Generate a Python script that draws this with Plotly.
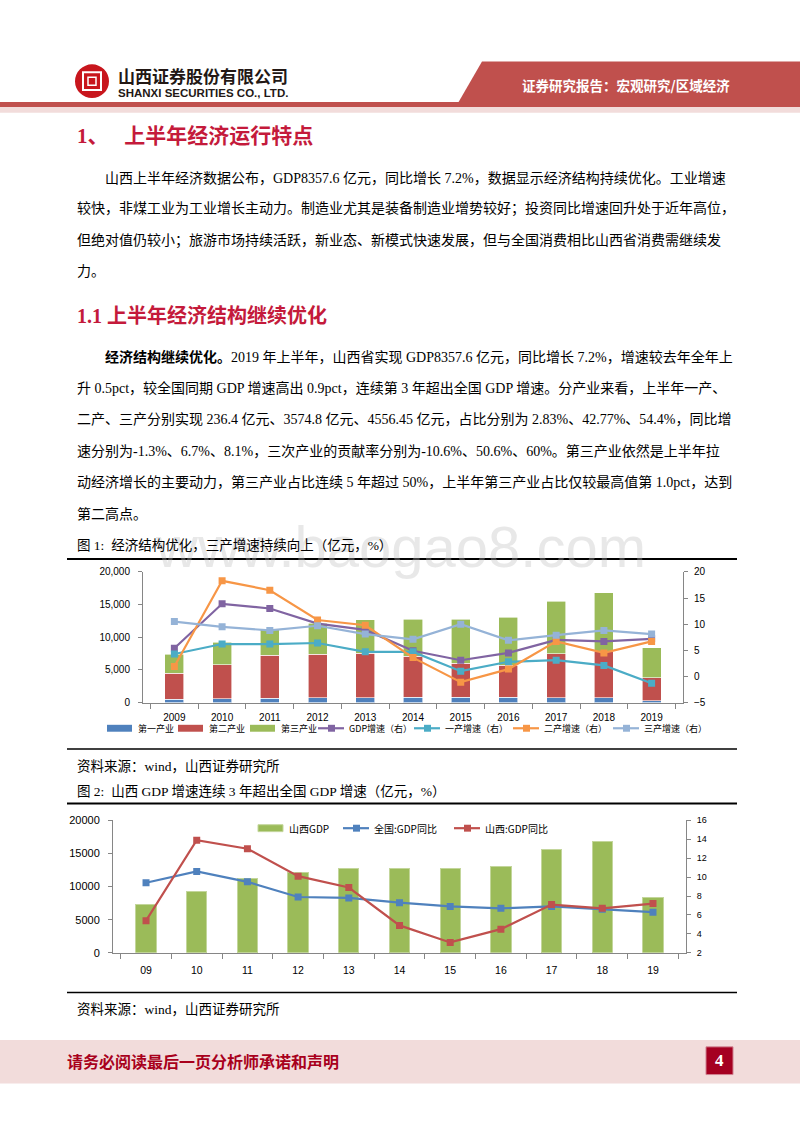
import plotly.graph_objects as go

W, H = 800, 1132
def X(p): return p / W
def Y(p): return 1 - p / H

# ---------------- data ----------------
years1 = ["2009", "2010", "2011", "2012", "2013", "2014", "2015", "2016", "2017", "2018", "2019"]
primary = [477, 554, 641, 698, 721, 788, 783, 785, 720, 741, 236.4]
secondary = [3993, 5235, 6635, 6731, 6792, 6284, 5195, 4926, 6779, 7089, 3574.8]
tertiary = [2888, 3412, 3962, 4683, 5152, 5689, 6789, 7339, 8030, 8988, 4556.45]
gdp_growth = [5.4, 13.9, 13.0, 10.1, 8.9, 4.9, 3.1, 4.5, 7.0, 6.7, 7.2]
prim_growth = [4.3, 6.2, 6.2, 6.4, 4.7, 4.7, 1.0, 2.8, 3.1, 2.1, -1.3]
sec_growth = [1.9, 18.3, 16.5, 10.8, 9.8, 3.6, -1.1, 1.4, 6.7, 4.5, 6.7]
ter_growth = [10.5, 9.5, 8.8, 9.7, 8.1, 7.1, 10.0, 6.9, 7.9, 8.8, 8.1]

years2 = ["09", "10", "11", "12", "13", "14", "15", "16", "17", "18", "19"]
sx_gdp = [7358, 9201, 11238, 12113, 12665, 12761, 12766, 13050, 15528, 16818, 8358]
cn_gdp_yoy = [9.4, 10.6, 9.5, 7.9, 7.8, 7.3, 6.9, 6.7, 6.9, 6.6, 6.3]
sx_gdp_yoy = [5.4, 13.9, 13.0, 10.1, 8.9, 4.9, 3.1, 4.5, 7.1, 6.7, 7.2]

bar_names1 = ["第一产业", "第二产业", "第三产业"]
bar_colors1 = ["#4f81bd", "#c0504d", "#9bbb59"]
line_names1 = ["GDP增速（右）", "一产增速（右）", "二产增速（右）", "三产增速（右）"]
line_colors1 = ["#8064a2", "#4bacc6", "#f79646", "#95b3d7"]

CJK = "Noto Sans CJK SC"
SERIF = "Liberation Serif, Noto Sans CJK SC"
SANS = "Liberation Sans, Arial, Noto Sans CJK SC"
RED_T = "#c41a3b"

fig = go.Figure()

# ---------------- chart 1 ----------------
bar_line = dict(color="white", width=0.6)
for name, vals, col in zip(bar_names1, [primary, secondary, tertiary], bar_colors1):
    fig.add_trace(go.Bar(x=years1, y=vals, name=name, marker=dict(color=col, line=bar_line),
                         width=0.4, xaxis="x", yaxis="y"))
for name, vals, col in zip(line_names1, [gdp_growth, prim_growth, sec_growth, ter_growth], line_colors1):
    fig.add_trace(go.Scatter(x=years1, y=vals, name=name, mode="lines+markers",
                             line=dict(color=col, width=2.2),
                             marker=dict(symbol="square", size=7, color=col),
                             xaxis="x", yaxis="y2"))

# ---------------- chart 2 ----------------
fig.add_trace(go.Bar(x=years2, y=sx_gdp, name="山西GDP",
                     marker=dict(color="#9bbb59", line=dict(color="#c3d69b", width=1)),
                     width=0.4, xaxis="x2", yaxis="y3"))
fig.add_trace(go.Scatter(x=years2, y=cn_gdp_yoy, name="全国:GDP同比", mode="lines+markers",
                         line=dict(color="#4f81bd", width=2.2),
                         marker=dict(symbol="square", size=7, color="#4f81bd"),
                         xaxis="x2", yaxis="y4"))
fig.add_trace(go.Scatter(x=years2, y=sx_gdp_yoy, name="山西:GDP同比", mode="lines+markers",
                         line=dict(color="#c0504d", width=2.2),
                         marker=dict(symbol="square", size=7, color="#c0504d"),
                         xaxis="x2", yaxis="y4"))

axcol = "#868686"
def tf(size): return dict(family=SANS, size=size, color="#000000")
def ycommon(size):
    return dict(showgrid=False, zeroline=False, showline=True, linecolor=axcol, linewidth=1,
                ticks="outside", ticklen=4, tickcolor=axcol, tickfont=tf(size))
def xcommon(size):
    return dict(showgrid=False, zeroline=False, showline=True, linecolor=axcol, linewidth=1,
                ticks="outside", ticklen=5, tickcolor=axcol, tickson="boundaries",
                tickfont=tf(size), type="category")

fig.update_layout(
    width=W, height=H, margin=dict(l=0, r=0, t=0, b=0),
    paper_bgcolor="white", plot_bgcolor="rgba(0,0,0,0)",
    barmode="stack", showlegend=False,
    xaxis=dict(domain=[X(143), X(683)], anchor="y", ticklabelstandoff=5, **xcommon(10)),
    yaxis=dict(domain=[Y(704), Y(572)], anchor="x", range=[0, 20000], dtick=5000,
               tickformat=",.0f", ticklabelstandoff=6, **ycommon(10)),
    yaxis2=dict(overlaying="y", side="right", anchor="x", range=[-5, 20], dtick=5,
                ticklabelstandoff=4, **ycommon(10)),
    xaxis2=dict(domain=[X(113), X(686)], anchor="y3", ticklabelstandoff=8, **xcommon(10.5)),
    yaxis3=dict(domain=[Y(957), Y(823)], anchor="x2", range=[0, 20000], dtick=5000,
                tickformat="d", ticklabelstandoff=6, **ycommon(11)),
    yaxis4=dict(overlaying="y3", side="right", anchor="x2", range=[2, 16], dtick=2,
                ticklabelstandoff=4, **ycommon(9)),
)

shapes = []
ann = []

def text(x, y, s, size=14, color="#000", family=SERIF, anchor="left", yanchor="middle"):
    ann.append(dict(x=X(x), y=Y(y), xref="paper", yref="paper", text=s, showarrow=False,
                    xanchor=anchor, yanchor=yanchor, font=dict(size=size, color=color, family=family)))

def rect(x0, y0, x1, y1, fill, line=None, layer="below"):
    shapes.append(dict(type="rect", xref="paper", yref="paper", x0=X(x0), x1=X(x1), y0=Y(y1), y1=Y(y0),
                       fillcolor=fill, line=dict(width=0) if line is None else line, layer=layer))

def hline(x0, x1, y, width=1.5, color="#000"):
    shapes.append(dict(type="line", xref="paper", yref="paper", x0=X(x0), x1=X(x1), y0=Y(y), y1=Y(y),
                       line=dict(color=color, width=width)))

def leg_bar(x, y, name, col, size, border=None):
    rect(x, y - 3.5, x + 25, y + 3.5, col, line=border, layer="above")
    text(x + 29, y, name, size=size, family=CJK)

def leg_line(x, y, name, col, size):
    hline(x, x + 26, y, width=2.2, color=col)
    rect(x + 10, y - 3.5, x + 17, y + 3.5, col, layer="above")
    text(x + 29, y, name, size=size, family=CJK)

# watermark
text(400, 546, "www.baogao8.com", size=58, color="rgba(190,190,190,0.35)", family="Liberation Sans", anchor="center")

# ---------------- header ----------------
path = f"M {X(482)},{Y(56)} L {X(800)},{Y(56)} L {X(800)},{Y(98)} L {X(458)},{Y(98)} Z"
shapes.append(dict(type="path", xref="paper", yref="paper", path=path, fillcolor="#c0504d", line=dict(width=0)))
rect(0, 97, 800, 102, "#c0504d")
rect(0, 102, 800, 108, "#f2dcdb")
shapes.append(dict(type="circle", xref="paper", yref="paper", x0=X(75), x1=X(109), y0=Y(93), y1=Y(59),
                   fillcolor="#c8161d", line=dict(width=0)))
shapes.append(dict(type="rect", xref="paper", yref="paper", x0=X(83), x1=X(101), y0=Y(85), y1=Y(67),
                   fillcolor="#c8161d", line=dict(color="white", width=2)))
shapes.append(dict(type="rect", xref="paper", yref="paper", x0=X(88), x1=X(96), y0=Y(80), y1=Y(72),
                   fillcolor="#c8161d", line=dict(color="white", width=1.5)))
text(116, 70, "<b>山西证券股份有限公司</b>", size=17, color="#231815", family=CJK)
text(116, 88, "<b>SHANXI SECURITIES CO., LTD.</b>", size=11.5, color="#231815",
     family="Liberation Sans Narrow, Liberation Sans")
text(520, 80, "<b>证券研究报告：宏观研究/区域经济</b>", size=13.5, color="white", family=CJK)

# ---------------- body text ----------------
text(75, 131, "<b>1、   上半年经济运行特点</b>", size=21, color=RED_T)
p1 = [
    (103, 174, "山西上半年经济数据公布，GDP8357.6 亿元，同比增长 7.2%，数据显示经济结构持续优化。工业增速"),
    (75, 205, "较快，非煤工业为工业增长主动力。制造业尤其是装备制造业增势较好；投资同比增速回升处于近年高位，"),
    (75, 237, "但绝对值仍较小；旅游市场持续活跃，新业态、新模式快速发展，但与全国消费相比山西省消费需继续发"),
    (75, 268, "力。"),
]
for x, y, s in p1:
    text(x, y, s)
text(75, 313, "<b>1.1 上半年经济结构继续优化</b>", size=20, color=RED_T)
p2 = [
    (103, 355, "<b>经济结构继续优化。</b>2019 年上半年，山西省实现 GDP8357.6 亿元，同比增长 7.2%，增速较去年全年上"),
    (75, 386, "升 0.5pct，较全国同期 GDP 增速高出 0.9pct，连续第 3 年超出全国 GDP 增速。分产业来看，上半年一产、"),
    (75, 418, "二产、三产分别实现 236.4 亿元、3574.8 亿元、4556.45 亿元，占比分别为 2.83%、42.77%、54.4%，同比增"),
    (75, 450, "速分别为-1.3%、6.7%、8.1%，三次产业的贡献率分别为-10.6%、50.6%、60%。第三产业依然是上半年拉"),
    (75, 481, "动经济增长的主要动力，第三产业占比连续 5 年超过 50%，上半年第三产业占比仅较最高值第 1.0pct，达到"),
    (75, 513, "第二高点。"),
]
for x, y, s in p2:
    text(x, y, s)

text(75, 545, "图 1:  经济结构优化，三产增速持续向上（亿元，%）", size=13.5)
hline(67, 737, 559, width=2)
hline(67, 737, 751, width=1.5)
text(75, 769, "资料来源：wind，山西证券研究所", size=13.5)

# chart 1 legend
leg1_x = [107, 178, 250]
for x, name, col in zip(leg1_x, bar_names1, bar_colors1):
    leg_bar(x, 730, name, col, 9)
leg1_lx = [318, 414, 513, 613]
for x, name, col in zip(leg1_lx, line_names1, line_colors1):
    leg_line(x, 730, name, col, 9)

text(75, 793, "图 2:  山西 GDP 增速连续 3 年超出全国 GDP 增速（亿元，%）", size=13.5)
hline(67, 737, 806, width=2)
hline(67, 737, 997, width=1.5)
text(75, 1014, "资料来源：wind，山西证券研究所", size=13.5)

# chart 2 legend
leg_bar(258, 831, "山西GDP", "#9bbb59", 10, border=dict(color="#c3d69b", width=1))
leg_line(343, 831, "全国:GDP同比", "#4f81bd", 10)
leg_line(454, 831, "山西:GDP同比", "#c0504d", 10)

# ---------------- footer ----------------
rect(0, 1045, 800, 1089, "#f2dcdb")
text(65, 1066, "<b>请务必阅读最后一页分析师承诺和声明</b>", size=16, color="#a8001c", family=CJK)
shapes.append(dict(type="rect", xref="paper", yref="paper", x0=X(706), x1=X(733), y0=Y(1080), y1=Y(1052),
                   fillcolor="#a50021", line=dict(color="#d08090", width=1)))
text(719.5, 1066, "<b>4</b>", size=17, color="white", family="Liberation Serif", anchor="center")

fig.update_layout(shapes=shapes, annotations=ann)
fig.write_html("out.html", config={"displayModeBar": False},
               post_script="document.body.style.margin='0';document.body.style.overflow='hidden';")
